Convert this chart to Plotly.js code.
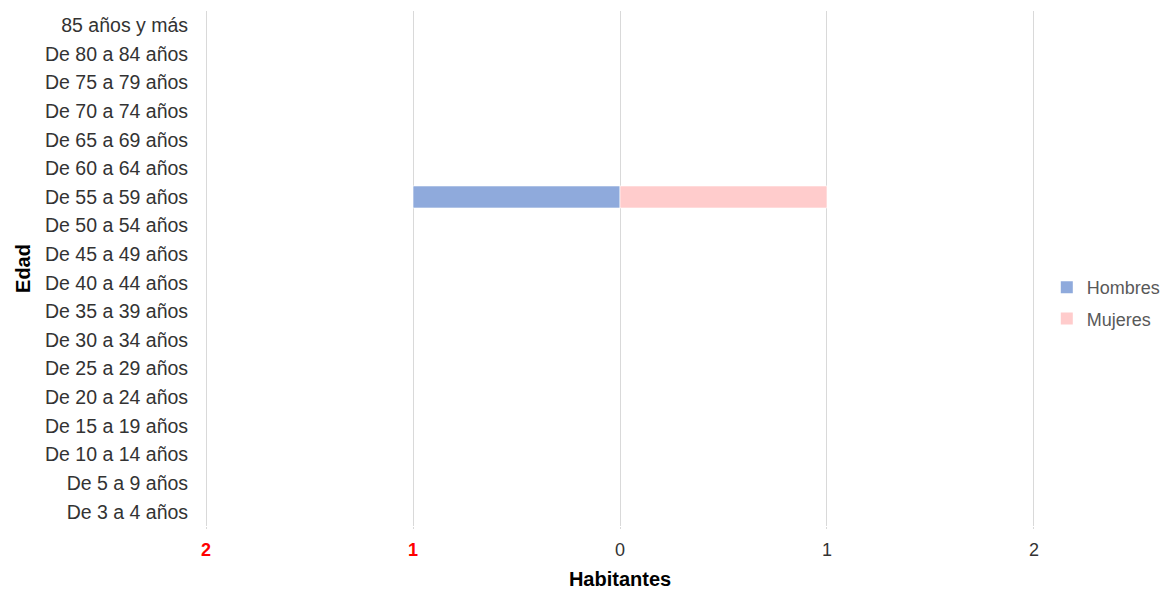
<!DOCTYPE html>
<html><head><meta charset="utf-8">
<script src="https://cdn.plot.ly/plotly-3.0.1.min.js"></script>
<style>html,body{margin:0;padding:0;background:#fff}#chart{width:1167px;height:590px}</style>
</head><body><div id="chart"></div>
<script>
const categories = ["De 3 a 4 años","De 5 a 9 años","De 10 a 14 años","De 15 a 19 años","De 20 a 24 años","De 25 a 29 años","De 30 a 34 años","De 35 a 39 años","De 40 a 44 años","De 45 a 49 años","De 50 a 54 años","De 55 a 59 años","De 60 a 64 años","De 65 a 69 años","De 70 a 74 años","De 75 a 79 años","De 80 a 84 años","85 años y más"];
const hombres = [0,0,0,0,0,0,0,0,0,0,0,1,0,0,0,0,0,0];
const mujeres = [0,0,0,0,0,0,0,0,0,0,0,1,0,0,0,0,0,0];
const xTickVals = [-2,-1,0,1,2];
const xTickText = ['<span style="color:#ff0000"><b>2</b></span>','<span style="color:#ff0000"><b>1</b></span>','0','1','2'];

const font = "Liberation Sans, Arial, sans-serif";
const traces = [
  {type:'bar', orientation:'h', name:'Hombres', y:categories, x:hombres.map(v=>-v),
   marker:{color:'#8faadc', line:{color:'rgba(255,255,255,0.6)', width:hombres.map(v=>v?1:0)}}, legendgroup:'h', hoverinfo:'skip'},
  {type:'bar', orientation:'h', name:'Mujeres', y:categories, x:mujeres,
   marker:{color:'#ffcccc', line:{color:'rgba(255,255,255,0.6)', width:mujeres.map(v=>v?1:0)}}, legendgroup:'m', hoverinfo:'skip'}
];
const layout = {
  width:1167, height:590,
  margin:{l:205, r:132, t:11, b:64, autoexpand:false},
  paper_bgcolor:'#fff', plot_bgcolor:'#fff',
  barmode:'relative', bargap:0.23,
  font:{family:font, size:19, color:'#333'},
  xaxis:{range:[-2.005,2.005], tickvals:xTickVals, ticktext:xTickText, showgrid:true, gridcolor:'#d9d9d9', gridwidth:1,
    zeroline:true, zerolinecolor:'#d9d9d9', zerolinewidth:1, showline:false, ticks:'outside', ticklen:2, tickcolor:'#d9d9d9', ticklabelstandoff:5,
    tickfont:{size:18, color:'#333', family:font},
    title:{text:'<b>Habitantes</b>', font:{size:20, color:'#000', family:font}, standoff:13}},
  yaxis:{type:'category', categoryorder:'array', categoryarray:categories, range:[-0.5,17.5],
    showgrid:false, zeroline:false, showline:false, ticks:'outside', ticklen:12, tickcolor:'rgba(0,0,0,0)',
    tickfont:{size:19.5, color:'#333', family:font},
    title:{text:'<b>Edad</b>', font:{size:20, color:'#000', family:font}, standoff:8}},
  showlegend:true,
  legend:{xref:'container', x:0.897, y:0.433, xanchor:'left', yanchor:'middle', tracegroupgap:5,
    font:{size:18, color:'#595959', family:font}, bgcolor:'rgba(0,0,0,0)'}
};
Plotly.newPlot('chart', traces, layout, {displayModeBar:false, staticPlot:true});
</script></body></html>
